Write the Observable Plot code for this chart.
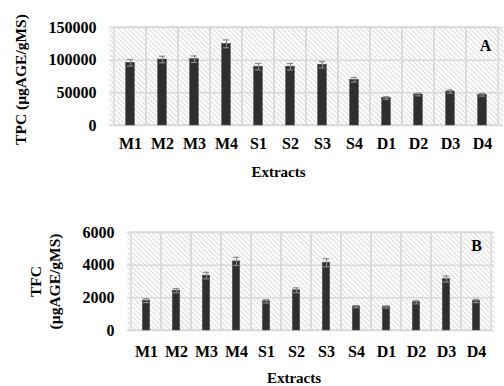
<!DOCTYPE html>
<html><head><meta charset="utf-8">
<script src="https://cdn.jsdelivr.net/npm/d3@7"></script>
<script src="https://cdn.jsdelivr.net/npm/@observablehq/plot@0.6"></script>
<style>
html,body{margin:0;padding:0;background:#fff;}
#wrap{width:504px;height:386px;overflow:hidden;}
svg{display:block;}
svg text{font-family:"Liberation Serif","Times New Roman",serif !important;}
</style></head>
<body><div id="wrap"></div>
<script>
const categories = ["M1","M2","M3","M4","S1","S2","S3","S4","D1","D2","D3","D4"];
const tpcValues = [96000,101000,101500,125000,90000,90000,93000,70000,42000,47500,52000,47000];
const tpcErrors = [5000,5000,5000,6000,5000,5000,5000,3500,2000,2000,2500,2000];
const tfcValues = [1830,2440,3360,4230,1790,2460,4150,1460,1440,1730,3150,1810];
const tfcErrors = [120,130,200,250,100,150,250,70,70,100,180,100];
const tpcTicks = [0,50000,100000,150000];
const tfcTicks = [0,2000,4000,6000];

const serif = "'Liberation Serif', 'Times New Roman', serif";
const font = {fontFamily: serif, fontSize:"16px", fontWeight:"bold", overflow:"visible", background:"#fff"};

function makeChart(cfg) {
  const data = categories.map((c,i)=>({cat:c, v:cfg.values[i], e:cfg.errors[i]}));
  const bw = cfg.bandW, barInset = (bw - cfg.barW)/2, capInset = (bw - 7)/2;
  const ymax = cfg.ticks[cfg.ticks.length-1];
  const svg = Plot.plot({
    width: 504, height: cfg.height,
    marginLeft: cfg.ml, marginRight: cfg.mr, marginTop: cfg.mt, marginBottom: cfg.mb,
    style: font,
    x: {type:"band", domain: categories, padding: 0, label: null, tickSize: 0, tickPadding: cfg.xPad},
    y: {domain:[0, ymax], ticks: cfg.ticks, tickFormat: d=>String(d), label: null, tickSize: 0, tickPadding: 13},
    marks: [
      Plot.frame({fill: `url(#${cfg.id})`, stroke: "none"}),
      Plot.ruleY(cfg.ticks, {stroke:"#d9d9d9", strokeWidth:1.5}),
      Plot.barY(categories, {x: d=>d, y1: 0, y2: ymax, fill: "none", stroke: "#d9d9d9", strokeWidth: 1.5}),
      Plot.barY(data, {x:"cat", y:"v", fill:"#2f2f2f", stroke:"#555", strokeWidth:0.6, insetLeft: barInset, insetRight: barInset}),
      Plot.ruleX(data, {x:"cat", y1: d=>d.v-d.e, y2: d=>d.v+d.e, stroke:"#8a8a8a", strokeWidth:1.2}),
      Plot.tickY(data, {x:"cat", y: d=>d.v+d.e, stroke:"#8a8a8a", strokeWidth:1.2, insetLeft: capInset, insetRight: capInset}),
      Plot.tickY(data, {x:"cat", y: d=>d.v-d.e, stroke:"#8a8a8a", strokeWidth:1.2, insetLeft: capInset, insetRight: capInset}),
      Plot.text([cfg.ytitle], {frameAnchor:"left", rotate:-90, dx: cfg.ytDx, dy: cfg.ytDy, textAnchor:"middle", lineAnchor:"middle", lineHeight:1.2, fontSize:15.5, fontWeight:"bold", fontFamily: serif}),
      Plot.text(["Extracts"], {frameAnchor:"bottom", dx: cfg.xtDx, dy: cfg.xtDy, lineAnchor:"middle", fontSize:15, fontWeight:"bold", fontFamily: serif}),
      Plot.text([cfg.letter], {frameAnchor:"top-right", dx: cfg.lDx, dy: cfg.lDy, textAnchor:"middle", lineAnchor:"middle", fontSize:16, fontWeight:"bold", fontFamily: serif})
    ]
  });
  const ns = "http://www.w3.org/2000/svg";
  const defs = document.createElementNS(ns, "defs");
  defs.innerHTML = `<pattern id="${cfg.id}" patternUnits="userSpaceOnUse" width="3.5" height="3.5" patternTransform="rotate(-45)"><rect width="3.5" height="3.5" fill="#ffffff"/><line x1="0.5" y1="0" x2="0.5" y2="3.5" stroke="#dadada" stroke-width="1"/></pattern>`;
  svg.insertBefore(defs, svg.firstChild);
  return svg;
}

const wrap = document.getElementById("wrap");
wrap.appendChild(makeChart({
  id:"hatchA", values: tpcValues, errors: tpcErrors, ticks: tpcTicks, height: 200,
  ml:109, mr:1, mt:27, mb:75, bandW: 394/12, barW: 9.5, xPad: 12,
  ytitle: "TPC (µgAGE/gMS)", ytDx: -89, ytDy: 3,
  xtDx: -28, xtDy: 47, letter: "A", lDx: -18, lDy: 18
}));
wrap.appendChild(makeChart({
  id:"hatchB", values: tfcValues, errors: tfcErrors, ticks: tfcTicks, height: 186,
  ml:127, mr:10, mt:32, mb:56, bandW: 367/12, barW: 8, xPad: 15,
  ytitle: "TFC\n(µgAGE/gMS)", ytDx: -83, ytDy: 0,
  xtDx: -17, xtDy: 48, letter: "B", lDx: -18, lDy: 13
}));
</script>
</body></html>
